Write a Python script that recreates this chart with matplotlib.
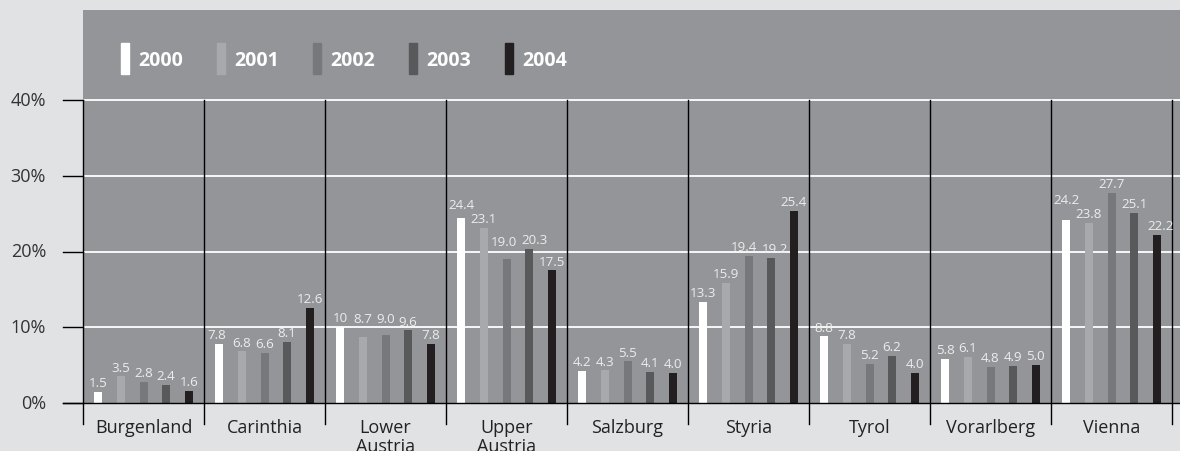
import matplotlib.pyplot as plt
from matplotlib.patches import Rectangle
import numpy as np

plt.rcParams['font.family'] = ['Open Sans', 'DejaVu Sans']

regions = ['Burgenland', 'Carinthia', 'Lower\nAustria', 'Upper\nAustria', 'Salzburg',
           'Styria', 'Tyrol', 'Vorarlberg', 'Vienna']
years = ['2000', '2001', '2002', '2003', '2004']

# share per region and year, as printed above the bars
shares = {
    '2000': ['1.5', '7.8', '10', '24.4', '4.2', '13.3', '8.8', '5.8', '24.2'],
    '2001': ['3.5', '6.8', '8.7', '23.1', '4.3', '15.9', '7.8', '6.1', '23.8'],
    '2002': ['2.8', '6.6', '9.0', '19.0', '5.5', '19.4', '5.2', '4.8', '27.7'],
    '2003': ['2.4', '8.1', '9.6', '20.3', '4.1', '19.2', '6.2', '4.9', '25.1'],
    '2004': ['1.6', '12.6', '7.8', '17.5', '4.0', '25.4', '4.0', '5.0', '22.2'],
}
yticks = [0, 10, 20, 30, 40]

# label nudges (points) where neighbouring labels would collide
nudge = {
    (2, '2001'): (0, 7), (2, '2002'): (0, 5),
    (3, '2000'): (0, 3), (3, '2002'): (-2, 6), (3, '2003'): (4, 0),
    (5, '2002'): (-3, 0), (5, '2003'): (3, 0),
    (8, '2000'): (0, 8), (8, '2004'): (3, 0),
    (1, '2000'): (-2, 0),
}

colors = ['#ffffff', '#a7a9ac', '#77787b', '#58595b', '#231f20']
panel = '#939598'
page = '#e1e2e4'

W, H = 1180, 452
ppu = 7.575  # pixels per percentage point
fig = plt.figure(figsize=(W / 100, H / 100), dpi=100, facecolor=page)
ax = fig.add_axes([83 / W, 48 / H, (W - 83) / W, 393 / H])
ax.set_facecolor(panel)
ax.set_xlim(-0.5, 8.5 + 8 / 121)
ax.set_ylim(0, 393 / ppu)
for s in ax.spines.values():
    s.set_visible(False)
ax.set_xticks([])
ax.set_yticks([])

x = np.arange(len(regions))
step = 22.6 / 121
width = 8 / 121
for i, yr in enumerate(years):
    vals = [float(v) for v in shares[yr]]
    pos = x + (i - 2) * step
    ax.bar(pos, vals, width=width, color=colors[i], zorder=3)
    for k, (px, v, txt) in enumerate(zip(pos, vals, shares[yr])):
        dx, dy = nudge.get((k, yr), (0, 0))
        ax.annotate(txt, (px, v), xytext=(dx, 2 + dy), textcoords='offset points',
                    ha='center', va='bottom', fontsize=9.6, color='#ececec', zorder=4)

# white gridlines and black ticks on the left
for t in yticks[1:]:
    ax.axhline(t, color='white', lw=1.3, zorder=1)
for t in yticks:
    ax.plot([-0.5 - 20 / 121, -0.5], [t, t], color='black', lw=1, clip_on=False, zorder=5)
    ax.text(-0.5 - 37 / 121, t, f'{t}%', ha='right', va='center', fontsize=13,
            color='#333333')
ax.plot([-0.5 - 20 / 121, ax.get_xlim()[1]], [0, 0], color='black', lw=1,
        clip_on=False, zorder=5)

# region dividers, running down past the baseline
for b in np.arange(len(regions) + 1) - 0.5:
    ax.plot([b, b], [-21 / ppu, 40], color='black', lw=1, clip_on=False, zorder=2)

for xi, name in zip(x, regions):
    ax.text(xi, -15 / ppu, name, ha='center', va='top', fontsize=13,
            color='#222222', linespacing=1.1)

# legend along the top of the panel
for i, yr in enumerate(years):
    lx = 121 + i * 96
    fig.patches.append(Rectangle((lx / W, (H - 75) / H), 8 / W, 31 / H,
                                 transform=fig.transFigure, color=colors[i]))
    fig.text((lx + 17) / W, (H - 61) / H, yr, ha='left', va='center',
             fontsize=14, fontweight='bold', color='white')

fig.savefig('out.png', dpi=100, facecolor=page)
